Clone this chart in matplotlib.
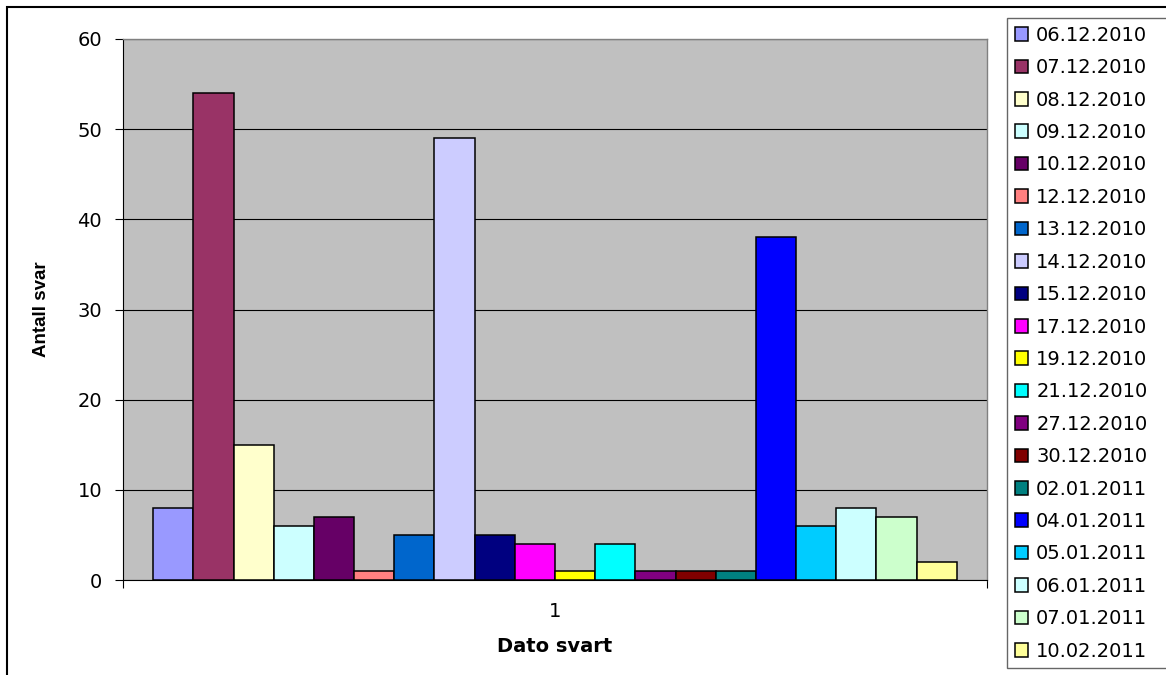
import matplotlib
matplotlib.use("Agg")
import matplotlib.pyplot as plt
from matplotlib.patches import Rectangle

series_labels = ["06.12.2010", "07.12.2010", "08.12.2010", "09.12.2010", "10.12.2010",
                 "12.12.2010", "13.12.2010", "14.12.2010", "15.12.2010", "17.12.2010",
                 "19.12.2010", "21.12.2010", "27.12.2010", "30.12.2010", "02.01.2011",
                 "04.01.2011", "05.01.2011", "06.01.2011", "07.01.2011", "10.02.2011"]
values = [8, 54, 15, 6, 7, 1, 5, 49, 5, 4, 1, 4, 1, 1, 1, 38, 6, 8, 7, 2]
colors = ["#9999FF", "#993366", "#FFFFCC", "#CCFFFF", "#660066",
          "#FF8080", "#0066CC", "#CCCCFF", "#000080", "#FF00FF",
          "#FFFF00", "#00FFFF", "#800080", "#800000", "#008080",
          "#0000FF", "#00CCFF", "#CCFFFF", "#CCFFCC", "#FFFF99"]
category = ["1"]
y_ticks = [0, 10, 20, 30, 40, 50, 60]

plt.rcParams['font.family'] = ['DejaVu Sans']

W, H = 1166, 675
fig = plt.figure(figsize=(W / 100, H / 100), dpi=100)
fig.patch.set_facecolor("white")
fig.patches.append(Rectangle((7 / W, -0.1), 1.2, 1 - 7 / H + 0.1, transform=fig.transFigure,
                             fill=False, edgecolor="black", linewidth=1.5, zorder=0))

left, right, top, bottom = 123, 987, 39, 580
ax = fig.add_axes([left / W, 1 - bottom / H, (right - left) / W, (bottom - top) / H])
ax.set_facecolor("#C0C0C0")

n = len(values)
gap = 1.5
bw = 1.0 / (n + gap)
start = gap / 2 * bw
for i, (v, c, lab) in enumerate(zip(values, colors, series_labels)):
    ax.bar(start + i * bw, v, width=bw, align="edge", color=c, edgecolor="black",
           linewidth=1.1, label=lab, zorder=3)

ax.set_xlim(0, 1)
ax.set_ylim(0, 60)
ax.set_yticks(y_ticks)
ax.yaxis.grid(True, color="black", linewidth=0.8, zorder=1)
ax.tick_params(axis="y", direction="out", length=6, width=0.8, pad=9, labelsize=14)
ax.set_xticks([0.5], category)
ax.tick_params(axis="x", which="major", length=0, pad=16, labelsize=14)
ax.set_xticks([0, 1], minor=True)
ax.tick_params(axis="x", which="minor", direction="out", length=6, width=0.8)

for s in ["top", "right"]:
    ax.spines[s].set_color("#808080")
    ax.spines[s].set_linewidth(1.0)
ax.spines["left"].set_color("black")
ax.spines["bottom"].set_color("black")
ax.spines["left"].set_linewidth(0.8)
ax.spines["bottom"].set_linewidth(0.8)

ax.set_xlabel("Dato svart", fontsize=14, fontweight="bold", labelpad=11)
ax.set_ylabel("Antall svar", fontsize=13.5, fontweight="bold", labelpad=20,
              family=["Liberation Sans", "DejaVu Sans"])

leg = fig.legend(loc="upper left", bbox_to_anchor=(1007 / W, 1 - 18 / H, 175 / W, 0),
                 mode="expand",
                 bbox_transform=fig.transFigure, fontsize=14, frameon=True,
                 fancybox=False, edgecolor="black", handlelength=0.7, handleheight=0.7,
                 handletextpad=0.4, labelspacing=0.69, borderpad=0.4, borderaxespad=0)
leg.get_frame().set_linewidth(1.0)
leg.get_frame().set_edgecolor("#404040")

fig.savefig("out.png", dpi=100)
